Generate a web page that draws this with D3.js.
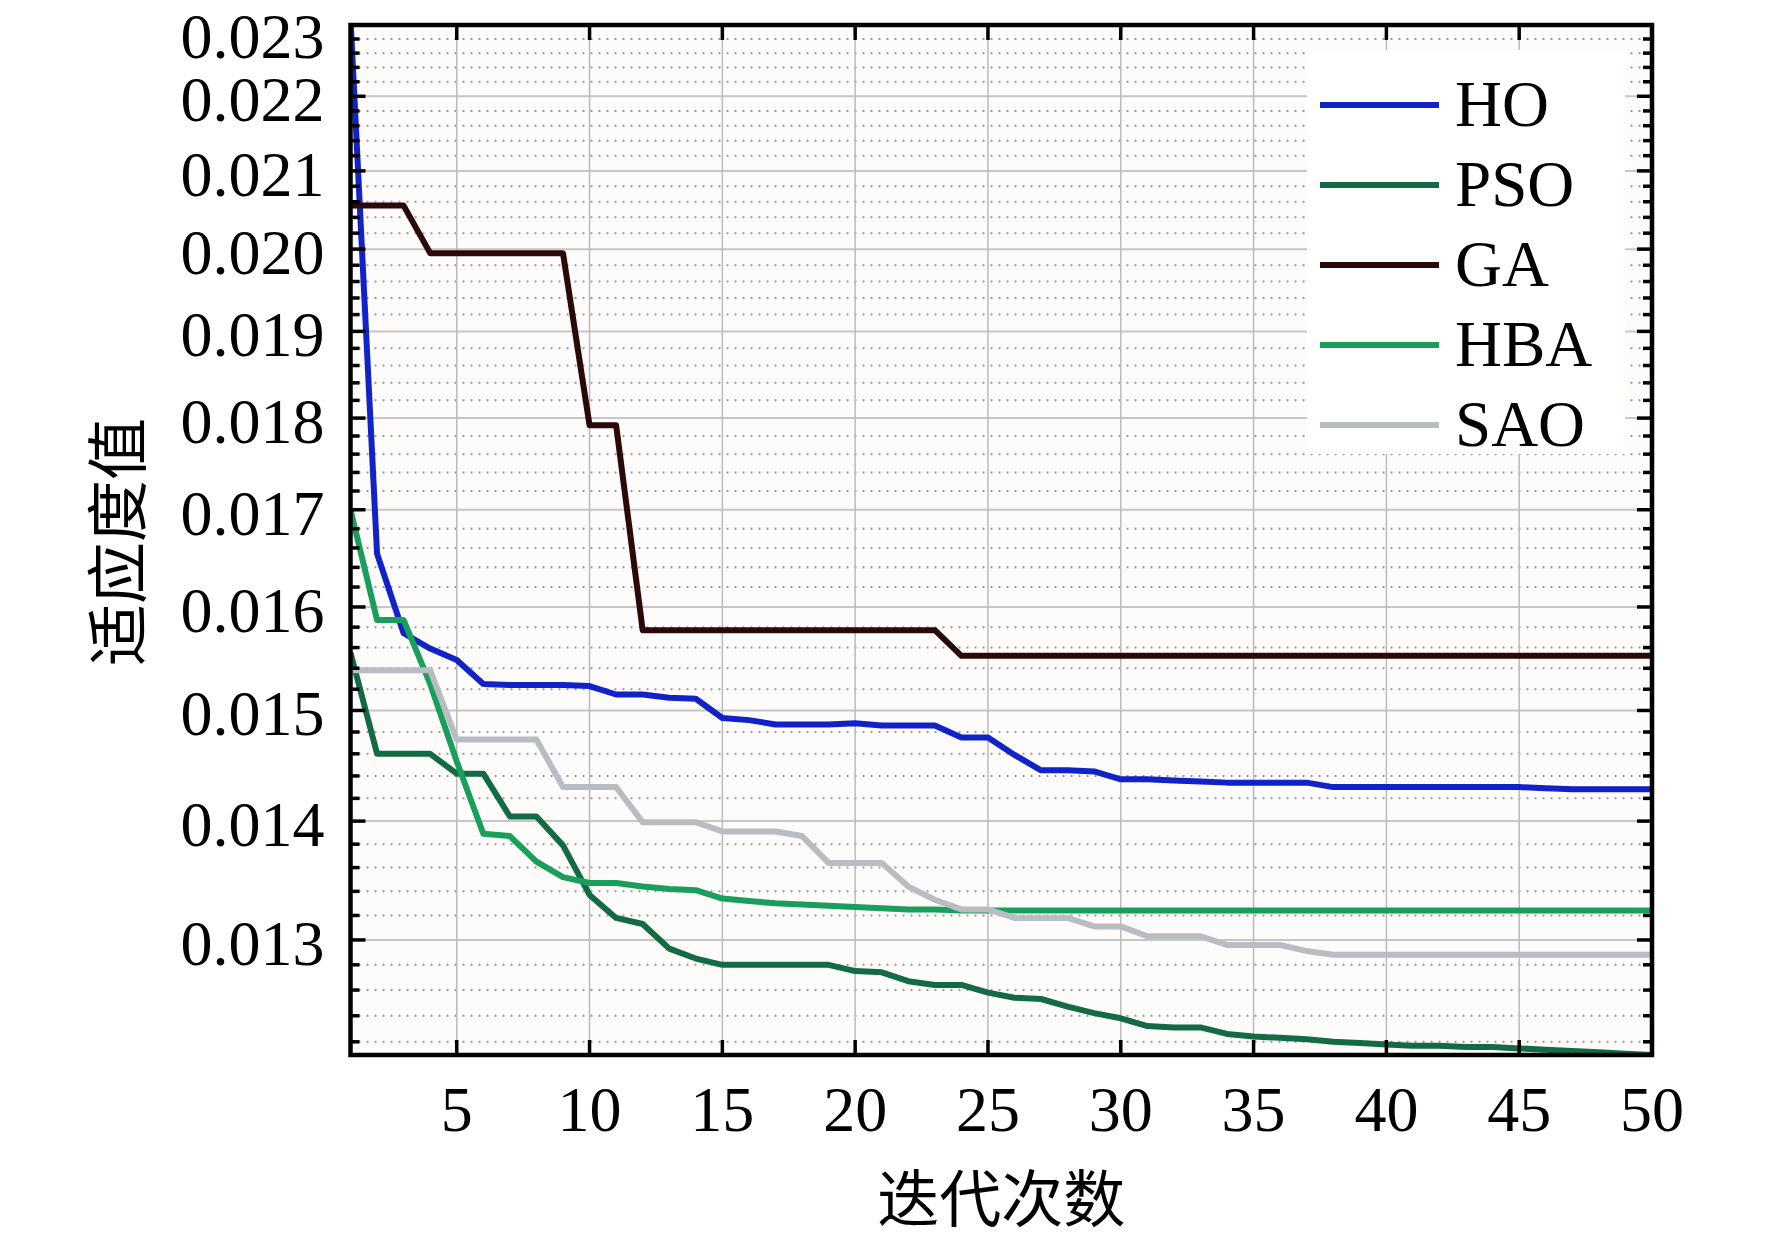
<!DOCTYPE html>
<html>
<head>
<meta charset="utf-8">
<script src="https://cdn.jsdelivr.net/npm/d3@7"></script>
<style>
  body { margin: 0; background: #fff; }
  text { font-family: "Liberation Serif", "Times New Roman", serif; fill: #000; }
  .cjk { font-family: "Noto Sans CJK SC", sans-serif; }
</style>
</head>
<body>
<div id="chart"></div>
<script>
// iterations 1..50
const iterations = d3.range(1, 51);

const seriesNames = ['HO', 'PSO', 'GA', 'HBA', 'SAO'];
const seriesColors = ['#1022c8', '#136b45', '#2c0909', '#1a9e5c', '#b9bdc2'];

const hoValues = [
  0.0231, 0.01654, 0.01574, 0.01559, 0.01548, 0.01525, 0.01524, 0.01524, 0.01524, 0.01523,
  0.01515, 0.01515, 0.01512, 0.01511, 0.01493, 0.01491, 0.01487, 0.01487, 0.01487, 0.01488,
  0.01486, 0.01486, 0.01486, 0.01475, 0.01475, 0.01459, 0.01445, 0.01445, 0.01444, 0.01437,
  0.01437, 0.01436, 0.01435, 0.01434, 0.01434, 0.01434, 0.01434, 0.0143, 0.0143, 0.0143,
  0.0143, 0.0143, 0.0143, 0.0143, 0.0143, 0.01429, 0.01428, 0.01428, 0.01428, 0.01428
];
const psoValues = [
  0.01555, 0.0146, 0.0146, 0.0146, 0.01442, 0.01442, 0.01404, 0.01404, 0.01379, 0.01337,
  0.01318, 0.01313, 0.01293, 0.01285, 0.0128, 0.0128, 0.0128, 0.0128, 0.0128, 0.01275,
  0.01274, 0.01267, 0.01264, 0.01264, 0.01258, 0.01254, 0.01253, 0.01247, 0.01242, 0.01238,
  0.01232, 0.01231, 0.01231, 0.01226, 0.01224, 0.01223, 0.01222, 0.0122, 0.01219, 0.01218,
  0.01217, 0.01217, 0.01216, 0.01216, 0.01215, 0.01214, 0.01213, 0.01212, 0.01211, 0.0121
];
const gaValues = [
  0.02055, 0.02055, 0.02055, 0.01995, 0.01995, 0.01995, 0.01995, 0.01995, 0.01995, 0.01792,
  0.01792, 0.01577, 0.01577, 0.01577, 0.01577, 0.01577, 0.01577, 0.01577, 0.01577, 0.01577,
  0.01577, 0.01577, 0.01577, 0.01552, 0.01552, 0.01552, 0.01552, 0.01552, 0.01552, 0.01552,
  0.01552, 0.01552, 0.01552, 0.01552, 0.01552, 0.01552, 0.01552, 0.01552, 0.01552, 0.01552,
  0.01552, 0.01552, 0.01552, 0.01552, 0.01552, 0.01552, 0.01552, 0.01552, 0.01552, 0.01552
];
const hbaValues = [
  0.0170, 0.01587, 0.01587, 0.01525, 0.01453, 0.01389, 0.01387, 0.01365, 0.01352, 0.01347,
  0.01347, 0.01344, 0.01342, 0.01341, 0.01334, 0.01332, 0.0133, 0.01329, 0.01328, 0.01327,
  0.01326, 0.01325, 0.01325, 0.01324, 0.01324, 0.01324, 0.01324, 0.01324, 0.01324, 0.01324,
  0.01324, 0.01324, 0.01324, 0.01324, 0.01324, 0.01324, 0.01324, 0.01324, 0.01324, 0.01324,
  0.01324, 0.01324, 0.01324, 0.01324, 0.01324, 0.01324, 0.01324, 0.01324, 0.01324, 0.01324
];
const saoValues = [
  0.01538, 0.01538, 0.01538, 0.01538, 0.01473, 0.01473, 0.01473, 0.01473, 0.0143, 0.0143,
  0.0143, 0.01399, 0.01399, 0.01399, 0.01391, 0.01391, 0.01391, 0.01387, 0.01364, 0.01364,
  0.01364, 0.01344, 0.01333, 0.01325, 0.01325, 0.01318, 0.01318, 0.01318, 0.01311, 0.01311,
  0.01303, 0.01303, 0.01303, 0.01296, 0.01296, 0.01296, 0.01291, 0.01288, 0.01288, 0.01288,
  0.01288, 0.01288, 0.01288, 0.01288, 0.01288, 0.01288, 0.01288, 0.01288, 0.01288, 0.01288
];

const xTicks = [5, 10, 15, 20, 25, 30, 35, 40, 45, 50];
const yTicks = [0.013, 0.014, 0.015, 0.016, 0.017, 0.018, 0.019, 0.020, 0.021, 0.022, 0.023];
const yDomain = [0.0121, 0.023];
const xLabel = '迭代次数';
const yLabel = '适应度值';

const allSeries = [hoValues, psoValues, gaValues, hbaValues, saoValues];

const width = 1772, height = 1242;
const plotLeft = 350.5, plotRight = 1652, plotTop = 25, plotBottom = 1055;

const svg = d3.select('#chart').append('svg')
    .attr('width', width)
    .attr('height', height);

const x = d3.scaleLinear().domain([1, 50]).range([plotLeft, plotRight]);
const y = d3.scaleLog().domain(yDomain).range([plotBottom, plotTop]);

// minor ticks every 0.0002 between the majors
const minorTicks = d3.range(122, 231, 2)
    .map(d => d / 10000)
    .filter(d => d >= yDomain[0] && Math.round(d * 10000) % 10 !== 0);

svg.append('rect')
    .attr('x', plotLeft).attr('y', plotTop)
    .attr('width', plotRight - plotLeft).attr('height', plotBottom - plotTop)
    .attr('fill', '#fefbfb');

const grid = svg.append('g');
grid.selectAll('.minor').data(minorTicks).join('line')
    .attr('x1', plotLeft).attr('x2', plotRight)
    .attr('y1', d => y(d)).attr('y2', d => y(d))
    .attr('stroke', '#999')
    .attr('stroke-width', 2)
    .attr('stroke-dasharray', '2,6');
grid.selectAll('.major').data(yTicks.slice(0, -1)).join('line')
    .attr('x1', plotLeft).attr('x2', plotRight)
    .attr('y1', d => y(d)).attr('y2', d => y(d))
    .attr('stroke', '#c6c6c6')
    .attr('stroke-width', 2);
grid.selectAll('.vert').data(xTicks.slice(0, -1)).join('line')
    .attr('x1', d => x(d)).attr('x2', d => x(d))
    .attr('y1', plotTop).attr('y2', plotBottom)
    .attr('stroke', '#bbb')
    .attr('stroke-width', 1.5);

svg.append('clipPath').attr('id', 'plotclip')
    .append('rect')
    .attr('x', plotLeft).attr('y', plotTop)
    .attr('width', plotRight - plotLeft).attr('height', plotBottom - plotTop);

const line = d3.line()
    .x((d, i) => x(iterations[i]))
    .y(d => y(d));

svg.append('g').attr('clip-path', 'url(#plotclip)')
    .selectAll('path').data(allSeries).join('path')
    .attr('d', line)
    .attr('fill', 'none')
    .attr('stroke', (d, i) => seriesColors[i])
    .attr('stroke-width', 6)
    .attr('stroke-linejoin', 'round');

// legend
const legend = svg.append('g');
legend.append('rect')
    .attr('x', 1307).attr('y', 50)
    .attr('width', 318).attr('height', 404)
    .attr('fill', '#fff');
seriesNames.forEach((name, i) => {
    const ly = 105 + i * 80;
    legend.append('line')
        .attr('x1', 1320).attr('x2', 1439)
        .attr('y1', ly).attr('y2', ly)
        .attr('stroke', seriesColors[i])
        .attr('stroke-width', 6);
    legend.append('text')
        .attr('x', 1455).attr('y', ly + 21)
        .attr('font-size', 65)
        .text(name);
});

// frame and inward ticks
const axisG = svg.append('g');
function tick(x1, y1, x2, y2, w) {
    axisG.append('line')
        .attr('x1', x1).attr('y1', y1).attr('x2', x2).attr('y2', y2)
        .attr('stroke', '#000').attr('stroke-width', w);
}
yTicks.forEach(d => {
    tick(plotLeft, y(d), plotLeft + 15, y(d), 3.5);
    tick(plotRight, y(d), plotRight - 15, y(d), 3.5);
});
minorTicks.forEach(d => {
    tick(plotLeft, y(d), plotLeft + 9, y(d), 3.5);
    tick(plotRight, y(d), plotRight - 9, y(d), 3.5);
});
xTicks.forEach(d => {
    tick(x(d), plotBottom, x(d), plotBottom - 15, 3.5);
    tick(x(d), plotTop, x(d), plotTop + 15, 3.5);
});
axisG.append('rect')
    .attr('x', plotLeft).attr('y', plotTop)
    .attr('width', plotRight - plotLeft).attr('height', plotBottom - plotTop)
    .attr('fill', 'none')
    .attr('stroke', '#000')
    .attr('stroke-width', 4.5);

// tick labels (top one kept inside the page)
svg.append('g').selectAll('text').data(yTicks).join('text')
    .attr('x', plotLeft - 26)
    .attr('y', d => Math.max(y(d) + 25, 58))
    .attr('text-anchor', 'end')
    .attr('font-size', 64)
    .text(d3.format('.3f'));
svg.append('g').selectAll('text').data(xTicks).join('text')
    .attr('x', d => x(d))
    .attr('y', 1131)
    .attr('text-anchor', 'middle')
    .attr('font-size', 64)
    .text(d => d);

// axis titles
svg.append('text')
    .attr('class', 'cjk')
    .attr('x', (plotLeft + plotRight) / 2)
    .attr('y', 1222)
    .attr('text-anchor', 'middle')
    .attr('font-size', 62)
    .text(xLabel);
svg.append('text')
    .attr('class', 'cjk')
    .attr('transform', 'translate(141,542) rotate(-90)')
    .attr('text-anchor', 'middle')
    .attr('font-size', 62)
    .text(yLabel);
</script>
</body>
</html>
